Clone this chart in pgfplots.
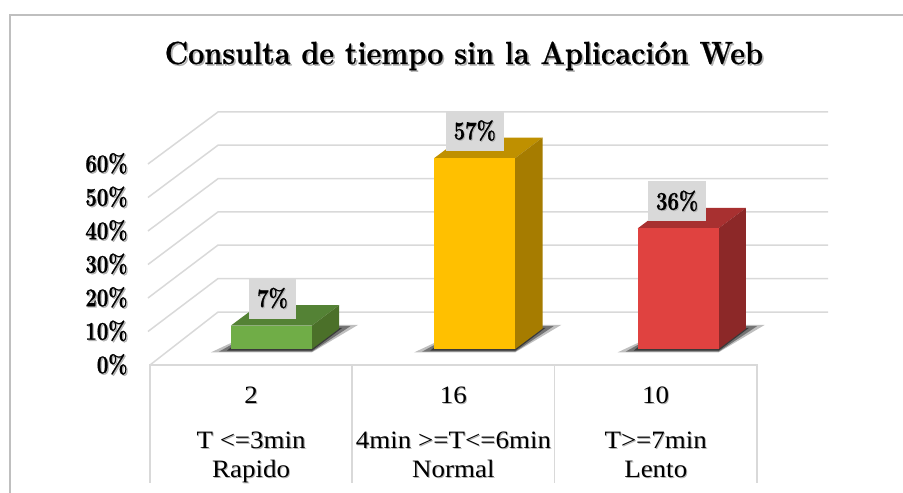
\documentclass[border=0pt]{standalone}
\usepackage{fontspec}
\usepackage{pgfplots}
\pgfplotsset{compat=1.18}
\newfontfamily\tablefont[FakeStretch=1.08]{Liberation Serif}
\newfontfamily\titlefont[FakeStretch=0.9,BoldFeatures={FakeBold=0.7}]{Latin Modern Roman}
\newfontfamily\numfont[FakeStretch=0.8,BoldFeatures={FakeBold=1}]{Latin Modern Roman}
\definecolor{gridc}{HTML}{D9D9D9}
\definecolor{framec}{HTML}{BFBFBF}
\definecolor{greenF}{HTML}{70AD47}\definecolor{greenT}{HTML}{548235}\definecolor{greenS}{HTML}{4B7029}
\definecolor{yellowF}{HTML}{FFC000}\definecolor{yellowT}{HTML}{BF9000}\definecolor{yellowS}{HTML}{A67C00}
\definecolor{redF}{HTML}{E04240}\definecolor{redT}{HTML}{A83030}\definecolor{redS}{HTML}{8C2828}
% text with a soft drop shadow
\newcommand{\shd}[2][1.3pt]{\leavevmode\rlap{\hspace{#1}\raisebox{-#1}{\textcolor{black!30}{#2}}}#2}
% one fake 3D bar: category, value, x shift, colours
\newcommand{\fakebar}[6]{
  \addplot[fill=black,draw=none,opacity=0.25,xshift=#3,yshift=16pt] coordinates {({#1-0.299},-1) ({#1+0.2},-1) ({#1+0.428},7.2) ({#1+0.334},7.2) ({#1-0.2},1.8)} -- cycle;
  \addplot[fill=black,draw=none,opacity=0.4,xshift=#3,yshift=16pt] coordinates {({#1-0.26},-0.8) ({#1+0.2},-0.8) ({#1+0.39},6.8) ({#1+0.32},6.8) ({#1-0.2},1.2)} -- cycle;
  \addplot[fill=black,draw=none,opacity=0.5,xshift=#3,yshift=16pt] coordinates {({#1-0.22},-0.5) ({#1+0.2},-0.5) ({#1+0.35},6.3) ({#1+0.3},6.3) ({#1-0.2},0.5)} -- cycle;
  \addplot[fill=#5,draw=none,xshift=#3,yshift=16pt] coordinates {({#1-0.2},#2) ({#1+0.2},#2) ({#1+0.335},{#2+6.1}) ({#1-0.065},{#2+6.1})} -- cycle;
  \addplot[fill=#6,draw=none,xshift=#3,yshift=16pt] coordinates {({#1+0.2},0) ({#1+0.335},6.1) ({#1+0.335},{#2+6.1}) ({#1+0.2},#2)} -- cycle;
  \addplot[ybar,bar width=81pt,fill=#4,draw=none,xshift=#3,yshift=16pt] coordinates {(#1,#2)};
}
\begin{document}
\begin{tikzpicture}[x=1pt,y=1pt]
  \useasboundingbox (0,0) rectangle (903,493);
  \draw[framec,line width=1.8pt] (10,0) -- (10,478) -- (903,478);
  \begin{axis}[
    at={(150pt,128pt)},
    scale only axis,
    width=678pt,height=253pt,
    xmin=-0.5,xmax=2.8515,
    ymin=0,ymax=75.52,
    clip=false,
    axis line style={draw=none},
    tick style={draw=none},
    ytick={0,10,20,30,40,50,60},
    yticklabel={\shd{\pgfmathprintnumber{\tick}\%}},
    y tick label style={font=\fontsize{25.5}{25.5}\selectfont\numfont\bfseries,xshift=-19pt,
      /pgf/number format/assume math mode=true},
    xtick={0,1,2},
    xticklabels={\shd[1pt]{2}\\[16pt]\shd[1pt]{T <=3min}\\\shd[1pt]{Rapido},
      \shd[1pt]{16}\\[16pt]\shd[1pt]{4min >=T<=6min}\\\shd[1pt]{Normal},
      \shd[1pt]{10}\\[16pt]\shd[1pt]{T>=7min}\\\shd[1pt]{Lento}},
    x tick label style={font=\fontsize{25}{29}\selectfont\tablefont,align=center,yshift=-18pt},
    title={\shd[1.6pt]{Consulta de tiempo sin la Aplicación Web}},
    title style={at={(axis description cs:0.463,1.166)},anchor=base,font=\fontsize{32}{38}\selectfont\titlefont\bfseries},
  ]
  % floor and back wall grid
  \addplot[gridc,line width=1.5pt] coordinates {(-0.5,0) (-0.1639,15.8) (2.8515,15.8)};
  \addplot[gridc,line width=1.5pt] coordinates {(-0.51,10) (-0.1639,25.8) (2.8515,25.8)};
  \addplot[gridc,line width=1.5pt] coordinates {(-0.51,20) (-0.1639,35.8) (2.8515,35.8)};
  \addplot[gridc,line width=1.5pt] coordinates {(-0.51,30) (-0.1639,45.7) (2.8515,45.7)};
  \addplot[gridc,line width=1.5pt] coordinates {(-0.51,40) (-0.1639,55.6) (2.8515,55.6)};
  \addplot[gridc,line width=1.5pt] coordinates {(-0.51,50) (-0.1639,65.6) (2.8515,65.6)};
  \addplot[gridc,line width=1.5pt] coordinates {(-0.51,60) (-0.1639,75.52) (2.8515,75.52)};
  % table under the chart
  \addplot[gridc,line width=1.8pt] coordinates {(-0.5,-35.2) (-0.5,0) (2.5,0) (2.5,-35.2)};
  \addplot[gridc,line width=1.8pt] coordinates {(0.5,0) (0.5,-35.2)};
  \addplot[gridc,line width=1.8pt] coordinates {(1.5,0) (1.5,-35.2)};
  % bars
  \fakebar{0}{7}{20.3pt}{greenF}{greenT}{greenS}
  \fakebar{1}{57}{21.3pt}{yellowF}{yellowT}{yellowS}
  \fakebar{2}{36}{22.4pt}{redF}{redT}{redS}
  % value labels
  \addplot[only marks,mark=none,xshift=21.3pt,yshift=43pt,
    nodes near coords={\shd[1pt]{\pgfmathprintnumber{\pgfplotspointmeta}\%}},
    nodes near coords align={center},
    every node near coord/.style={fill=gridc,font=\fontsize{25.5}{25.5}\selectfont\numfont\bfseries,anchor=center,
      minimum height=40pt,inner sep=0pt,inner xsep=8pt,
      /pgf/number format/assume math mode=true},
    point meta=explicit] coordinates {(0,7) [7] (1,57) [57] (2,36) [36]};
  \end{axis}
\end{tikzpicture}
\end{document}
